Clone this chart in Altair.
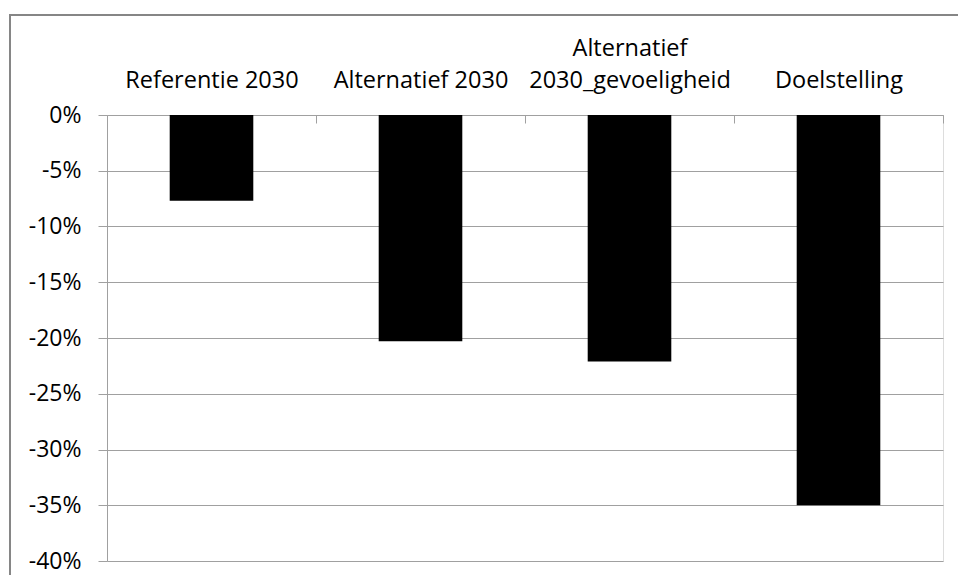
import altair as alt
import pandas as pd

categories = ["Referentie 2030", "Alternatief 2030", "Alternatief\n2030_gevoeligheid", "Doelstelling"]
values = [-0.077, -0.203, -0.221, -0.350]
y_ticks = [0, -0.05, -0.10, -0.15, -0.20, -0.25, -0.30, -0.35, -0.40]

df = pd.DataFrame({"cat": categories, "val": values})

FONT = "Open Sans"
GRAY = "#a0a0a0"
BORDER = "#868686"

bars = alt.Chart(df).mark_bar(color="black").encode(
    x=alt.X(
        "cat:N",
        sort=categories,
        title=None,
        scale=alt.Scale(paddingInner=0.6, paddingOuter=0.3),
        axis=alt.Axis(
            orient="bottom",
            offset=-446,
            labelAngle=0,
            labelExpr="indexof(datum.label, '\\n') >= 0 ? split(datum.label, '\\n') : ['', datum.label]",
            labelBaseline="bottom",
            labelLineHeight=32,
            labelPadding=-63,
            labelOffset=-104.5,
            labelLimit=400,
            labelFont=FONT,
            labelFontSize=23.5,
            labelColor="#000000",
            tickSize=8,
            tickColor=GRAY,
            tickOffset=104.5,
            domainColor=GRAY,
            grid=False,
        ),
    ),
    y=alt.Y(
        "val:Q",
        title=None,
        scale=alt.Scale(domain=[-0.4, 0], nice=False, zero=True),
        axis=alt.Axis(
            values=y_ticks,
            format=".0%",
            labelExpr="replace(datum.label, '\u2212', '-')",
            labelFont=FONT,
            labelFontSize=23,
            labelColor="#000000",
            labelPadding=17,
            tickSize=9,
            tickColor=GRAY,
            domainColor=GRAY,
            gridColor=GRAY,
            grid=True,
        ),
    ),
)

frame = pd.DataFrame({"a": [0]})
border_top = alt.Chart(frame).mark_rule(stroke=BORDER, strokeWidth=2).encode(
    x=alt.value(-97), x2=alt.value(851), y=alt.value(-100)
)
border_left = alt.Chart(frame).mark_rule(stroke=BORDER, strokeWidth=2).encode(
    x=alt.value(-97), y=alt.value(-101), y2=alt.value(460)
)

chart = alt.layer(bars, border_top, border_left).properties(
    width=836,
    height=446,
    autosize=alt.AutoSizeParams(type="none"),
    padding={"left": 107, "top": 115, "right": 15, "bottom": 14},
).configure_view(stroke=None).configure(background="white")

chart.save("out.html", embed_options={"renderer": "svg", "actions": False})
